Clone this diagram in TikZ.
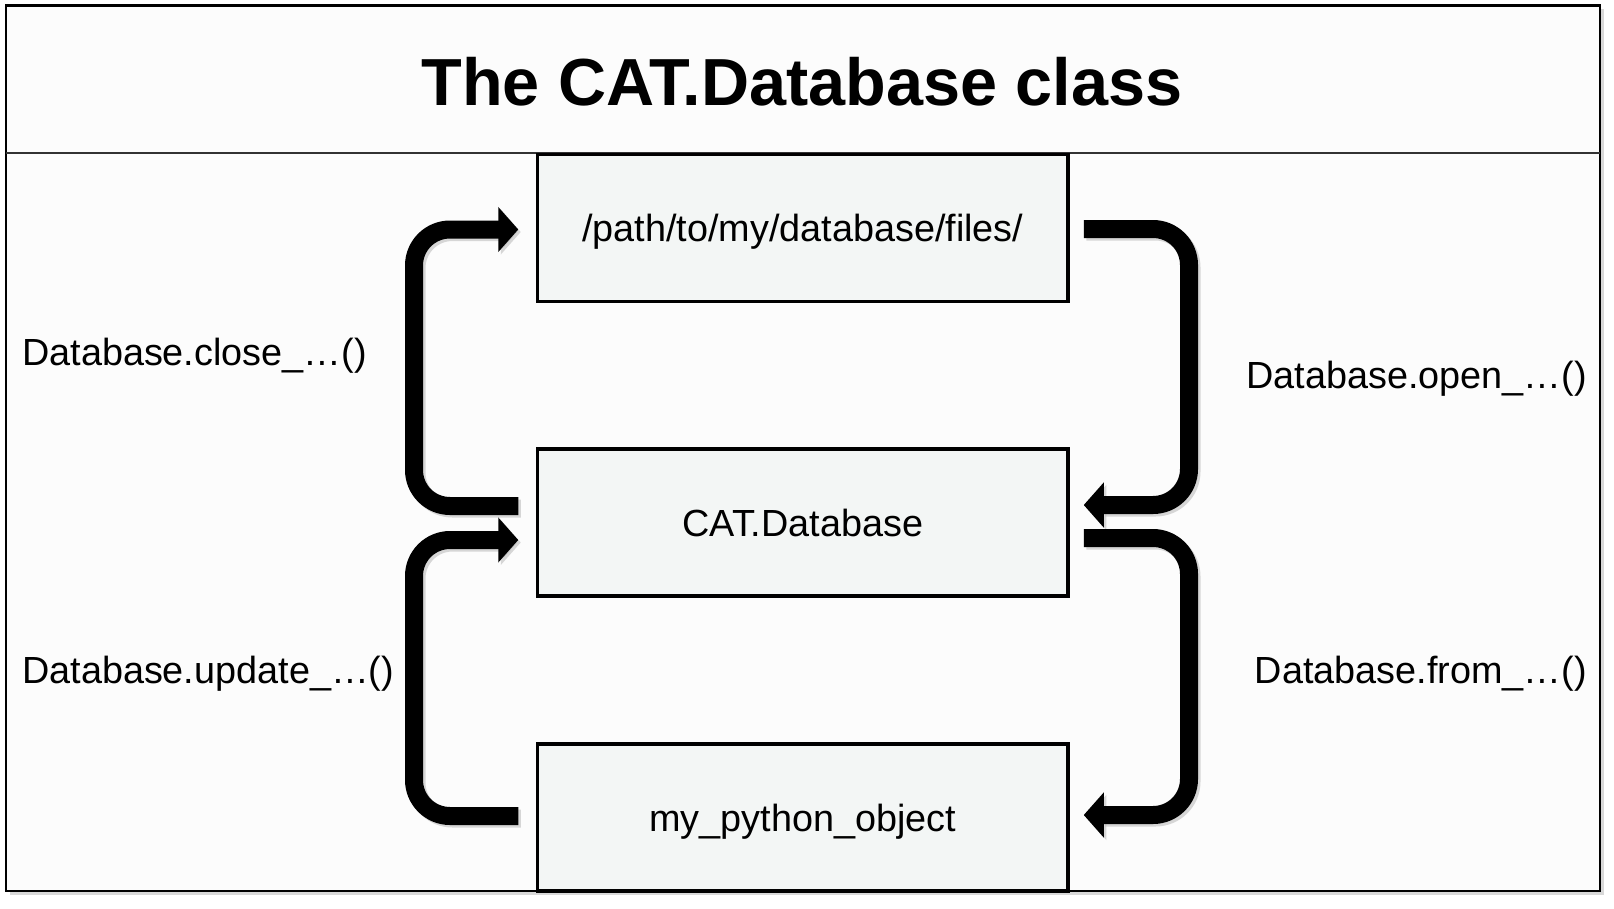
\documentclass[tikz,border=0pt]{standalone}
\usepackage{fontspec}
\setmainfont{Liberation Sans}
\usetikzlibrary{arrows.meta,calc}
\definecolor{framefill}{RGB}{252,252,252}
\definecolor{boxfill}{RGB}{243,246,245}
\definecolor{shadowgray}{RGB}{190,190,190}
\tikzset{
  classbox/.style={draw=black, line width=3.5pt, fill=boxfill, minimum width=530.5pt,
    minimum height=147pt, inner sep=0pt, text height=27pt, text depth=0pt,
    font=\fontsize{37.8}{37.8}\selectfont},
  lbl/.style={inner sep=0pt, font=\fontsize{37.8}{37.8}\selectfont},
  bigarrow/.style={line width=18pt, rounded corners=36pt, line join=round,
    -{Triangle[length=20pt,width=44pt]}},
  arrowshadow/.style={bigarrow, draw=shadowgray, opacity=0.6,
    transform canvas={shift={(2.5pt,-2.5pt)}}}
}
\begin{document}
\begin{tikzpicture}[x=1pt,y=-1pt]
\useasboundingbox (0,0) rectangle (1614,908);
% frame with shadow
\fill[shadowgray, opacity=0.6] (9.5,9) rectangle (1604,895);
\draw[line width=2.5pt, fill=framefill] (6,5.5) rectangle (1600,891);
\draw[line width=2pt, black!80] (6,153) -- (1600,153);
\node[inner sep=0pt, anchor=base, font=\bfseries\fontsize{66.6}{66.6}\selectfont] (title) at (802,105) {The CAT.Database class};

% boxes
\node[classbox] (b1) at (802.75,228) {/path/to/my/database/files/};
\node[classbox] (b2) at (802.75,522.5) {CAT.Database};
\node[classbox] (b3) at (802.75,817.5) {my\_python\_object};

% column coordinates of the arrows
\coordinate (lx) at (414,0);
\coordinate (rx) at (1189,0);

% arrow end points
\coordinate (cs) at ($(b2.west)+(-17.5,-16.5)$);
\coordinate (ce) at ($(b1.west)+(-17.5,1.5)$);
\coordinate (us) at ($(b3.west)+(-17.5,-1.5)$);
\coordinate (ue) at ($(b2.west)+(-17.5,17.5)$);
\coordinate (os) at ($(b1.east)+(14,1)$);
\coordinate (oe) at ($(b2.east)+(14,-17.5)$);
\coordinate (fs) at ($(b2.east)+(14,15.5)$);
\coordinate (fe) at ($(b3.east)+(14,-2.5)$);

% shadows
\draw[arrowshadow] (cs) -- (cs -| lx) -- (ce -| lx) -- (ce);
\draw[arrowshadow] (us) -- (us -| lx) -- (ue -| lx) -- (ue);
\draw[arrowshadow] (os) -- (os -| rx) -- (oe -| rx) -- (oe);
\draw[arrowshadow] (fs) -- (fs -| rx) -- (fe -| rx) -- (fe);

% arrows
\draw[bigarrow] (cs) -- (cs -| lx) -- (ce -| lx) -- (ce);
\draw[bigarrow] (us) -- (us -| lx) -- (ue -| lx) -- (ue);
\draw[bigarrow] (os) -- (os -| rx) -- (oe -| rx) -- (oe);
\draw[bigarrow] (fs) -- (fs -| rx) -- (fe -| rx) -- (fe);

% labels
\node[lbl, anchor=base west] (lclose) at (22,365) {Database.close\_…()};
\node[lbl, anchor=base west] (lupdate) at (22,683) {Database.update\_…()};
\node[lbl, anchor=base east] (lopen) at (1587,388) {Database.open\_…()};
\node[lbl, anchor=base east] (lfrom) at (1587,683) {Database.from\_…()};
\end{tikzpicture}
\end{document}
